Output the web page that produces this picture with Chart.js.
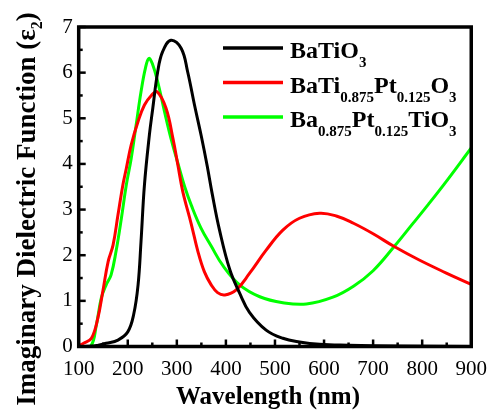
<!DOCTYPE html>
<html>
<head>
<meta charset="utf-8">
<script src="https://cdn.jsdelivr.net/npm/chart.js@4/dist/chart.umd.min.js"></script>
<style>
  html, body { margin: 0; padding: 0; background: #fff; }
  #wrap { width: 497px; height: 416px; position: relative; }
</style>
</head>
<body>
<div id="wrap"><canvas id="chart"></canvas></div>
<script>
// wavelength (nm), epsilon_2
const batio3 = [[100,0],[130,0.01],[140,0.03],[156,0.07],[180,0.14],[200,0.32],[212,0.7],[221,1.35],[227,2.3],[234,3.54],[244,4.63],[251,5.22],[261,6.02],[271,6.46],[288,6.71],[309,6.53],[322,6.02],[336,5.29],[350,4.6],[362,3.95],[372,3.35],[387,2.55],[408,1.68],[428,1.17],[448,0.75],[482,0.36],[516,0.18],[550,0.1],[591,0.05],[650,0.03],[750,0.01],[900,0]];
const tiPt = [[100,0.02],[110,0.07],[126,0.18],[139,0.62],[149,1.2],[160,1.86],[170,2.22],[180,2.88],[190,3.54],[197,3.9],[207,4.42],[221,4.93],[234,5.29],[248,5.5],[260,5.58],[278,5.22],[292,4.56],[302,3.98],[312,3.4],[329,2.7],[343,2.08],[356,1.64],[370,1.35],[383,1.18],[398,1.13],[421,1.24],[448,1.6],[482,2.11],[516,2.55],[550,2.81],[591,2.92],[625,2.86],[660,2.7],[700,2.47],[743,2.19],[793,1.9],[847,1.62],[900,1.36]];
const baPt = [[100,0],[124,0],[136,0.47],[146,1.06],[156,1.35],[166,1.57],[176,2.08],[187,2.81],[197,3.54],[207,4.12],[217,4.85],[227,5.58],[236,6.1],[243,6.31],[250,6.2],[261,5.8],[275,5.14],[288,4.56],[302,4.02],[316,3.5],[330,3.08],[349,2.6],[370,2.2],[394,1.77],[428,1.35],[469,1.09],[516,0.96],[564,0.93],[618,1.08],[660,1.32],[700,1.66],[743,2.19],[780,2.68],[813,3.12],[850,3.63],[900,4.35]];

const xMin = 100, xMax = 900, xStep = 100;
const yMin = 0, yMax = 7, yStep = 1;

// legend rows: [text, isSubscript]
const legendRows = [
  { color: "#000000", parts: [["BaTiO", 0], ["3", 1]] },
  { color: "#ff0000", parts: [["BaTi", 0], ["0.875", 1], ["Pt", 0], ["0.125", 1], ["O", 0], ["3", 1]] },
  { color: "#00ff00", parts: [["Ba", 0], ["0.875", 1], ["Pt", 0], ["0.125", 1], ["TiO", 0], ["3", 1]] }
];

const serif = "'Liberation Serif', 'Times New Roman', serif";
const toXY = (arr) => arr.map(p => ({ x: p[0], y: p[1] }));

function drawParts(ctx, parts, x, y, mainFont, subFont, subDrop) {
  parts.forEach(([t, sub]) => {
    ctx.font = sub ? subFont : mainFont;
    ctx.fillText(t, x, y + (sub ? subDrop : 0));
    x += ctx.measureText(t).width;
  });
  return x;
}

const framePlugin = {
  id: "frame",
  afterDraw(chart) {
    const { ctx, chartArea: a, scales: { x, y } } = chart;
    ctx.save();
    ctx.strokeStyle = "#000";
    // ticks pointing inside
    ctx.lineWidth = 2.5;
    for (let v = xMin; v <= xMax; v += xStep / 2) {
      const px = x.getPixelForValue(v);
      const len = (v % xStep === 0) ? 7 : 4;
      ctx.beginPath(); ctx.moveTo(px, a.bottom); ctx.lineTo(px, a.bottom - len); ctx.stroke();
    }
    for (let v = yMin; v <= yMax; v += yStep / 2) {
      const py = y.getPixelForValue(v);
      const len = (v % yStep === 0) ? 7 : 4;
      ctx.beginPath(); ctx.moveTo(a.left, py); ctx.lineTo(a.left + len, py); ctx.stroke();
    }
    ctx.lineWidth = 3.5;
    ctx.strokeRect(a.left, a.top, a.right - a.left, a.bottom - a.top);

    // legend
    ctx.fillStyle = "#000";
    ctx.textBaseline = "alphabetic";
    ctx.textAlign = "left";
    legendRows.forEach((row, i) => {
      const ly = 48 + i * 34.5;
      ctx.strokeStyle = row.color;
      ctx.lineWidth = 3.5;
      ctx.beginPath(); ctx.moveTo(223, ly); ctx.lineTo(283, ly); ctx.stroke();
      drawParts(ctx, row.parts, 290, ly + 10, "bold 24px " + serif, "bold 15px " + serif, 9);
    });

    // x title
    ctx.font = "bold 25px " + serif;
    ctx.fillText("Wavelength (nm)", 176, 404);

    // y title (rotated)
    const yParts = [["Imaginary Dielectric Function (\u03b5", 0], ["2", 1], [")", 0]];
    const mainF = "bold 27px " + serif, subF = "bold 16px " + serif;
    let w = 0;
    yParts.forEach(([t, sub]) => { ctx.font = sub ? subF : mainF; w += ctx.measureText(t).width; });
    ctx.translate(35, 209);
    ctx.rotate(-Math.PI / 2);
    drawParts(ctx, yParts, -w / 2, 0, mainF, subF, 7);
    ctx.restore();
  }
};

const line = (label, data, color) => ({
  label, data: toXY(data), borderColor: color, backgroundColor: color,
  borderWidth: 3, pointRadius: 0, fill: false, tension: 0.4
});

new Chart(document.getElementById("chart"), {
  type: "line",
  data: {
    datasets: [
      line("BaTiO3", batio3, "#000000"),
      line("BaTi0.875Pt0.125O3", tiPt, "#ff0000"),
      line("Ba0.875Pt0.125TiO3", baPt, "#00ff00")
    ]
  },
  options: {
    responsive: true,
    maintainAspectRatio: false,
    animation: false,
    layout: { padding: { top: 27, right: 25, left: 0, bottom: 0 } },
    plugins: { legend: { display: false }, tooltip: { enabled: false } },
    scales: {
      x: {
        type: "linear", min: xMin, max: xMax,
        grid: { display: false, drawTicks: false },
        border: { display: false },
        ticks: { stepSize: xStep, color: "#000", padding: 10, font: { family: serif, size: 21 } },
        afterFit: (s) => { s.height = 69.5; }
      },
      y: {
        min: yMin, max: yMax,
        grid: { display: false, drawTicks: false },
        border: { display: false },
        ticks: { stepSize: yStep, color: "#000", padding: 6, font: { family: serif, size: 21 } },
        afterFit: (s) => { s.width = 78.7; }
      }
    }
  },
  plugins: [framePlugin]
});
</script>
</body>
</html>
